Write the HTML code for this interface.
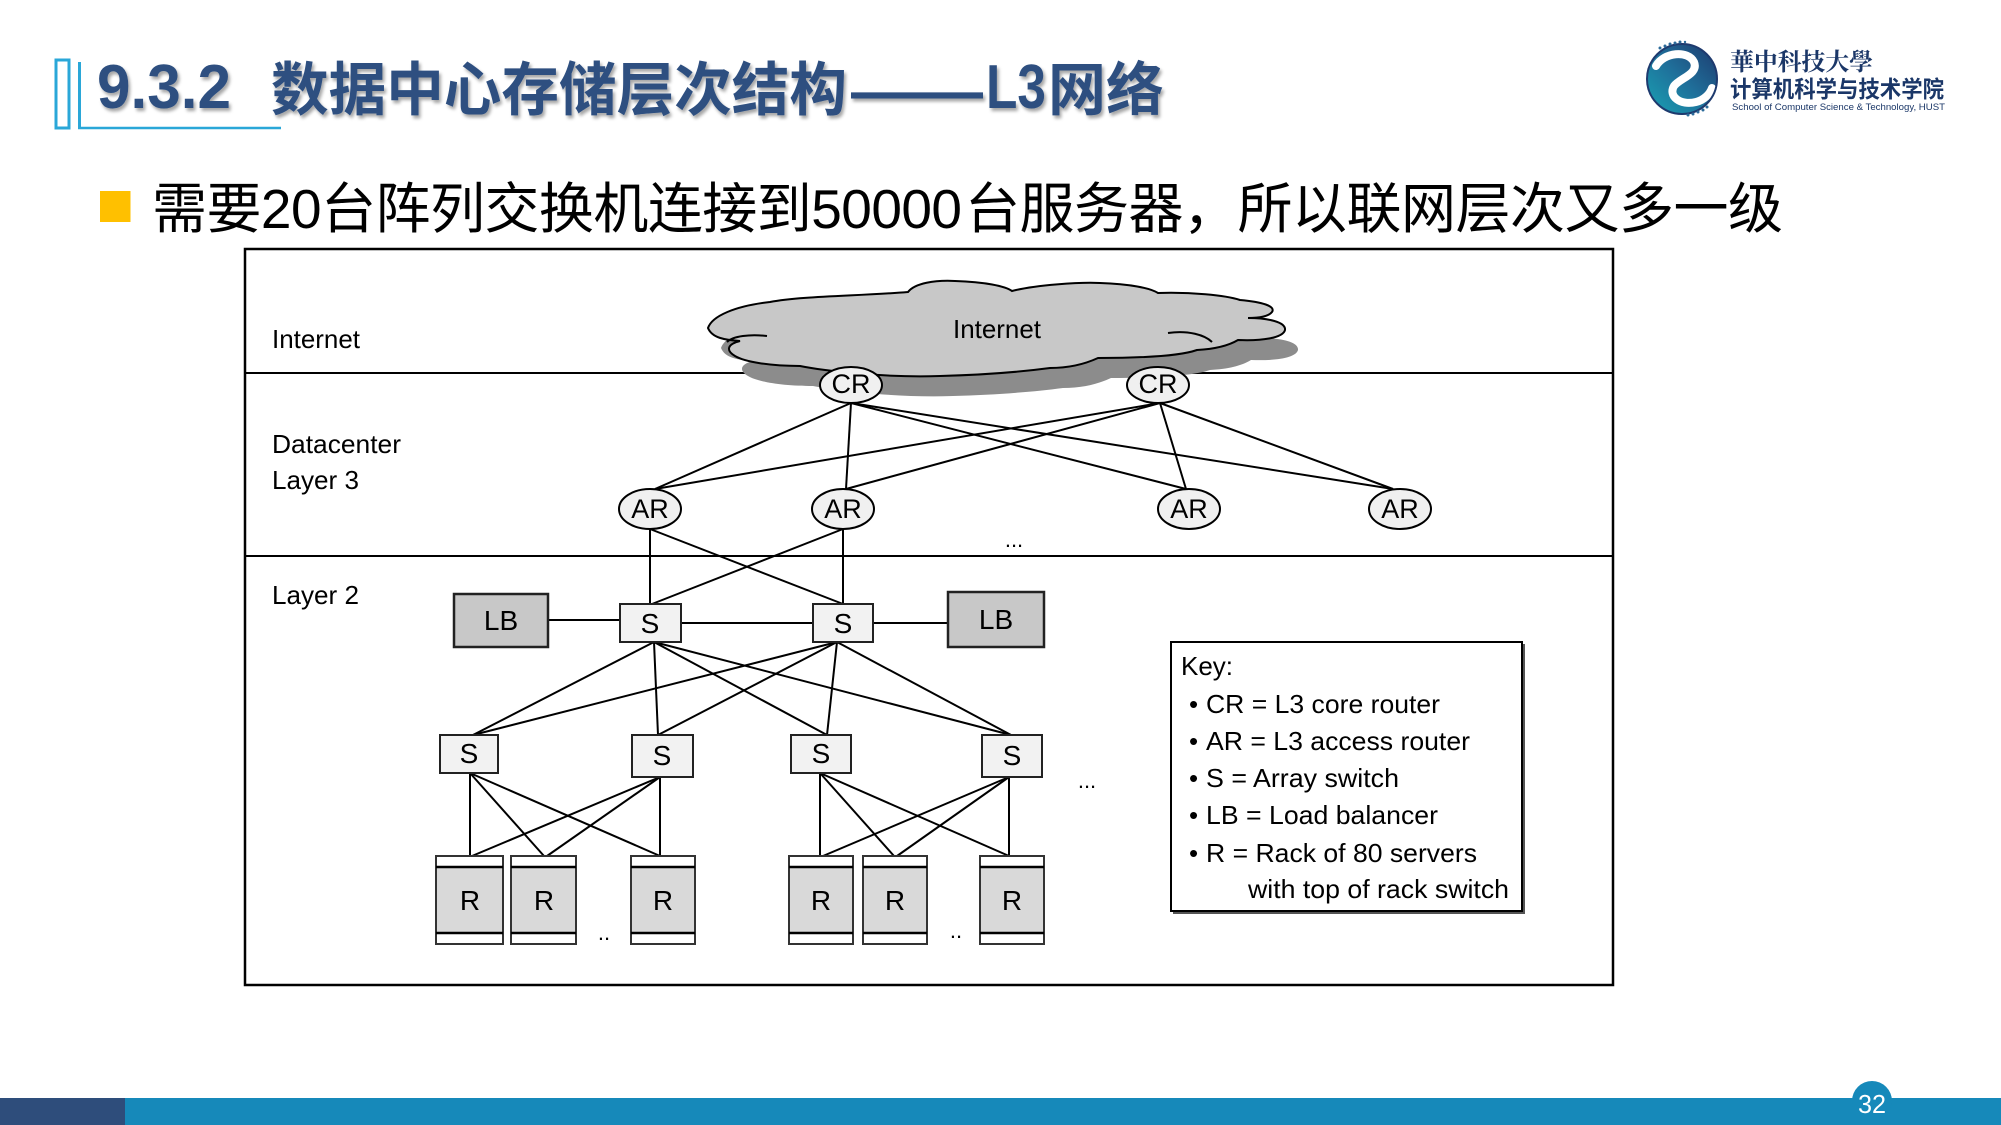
<!DOCTYPE html>
<html>
<head>
<meta charset="utf-8">
<style>
  html,body{margin:0;padding:0;background:#fff;}
  body{width:2001px;height:1125px;overflow:hidden;}
  svg{display:block;}
  .lat{font-family:"Liberation Sans",Arial,sans-serif;}
  .cjk{font-family:"Liberation Sans","Noto Sans CJK SC",sans-serif;}
</style>
</head>
<body>
<svg width="2001" height="1125" viewBox="0 0 2001 1125" xmlns="http://www.w3.org/2000/svg">
  <defs>
    <filter id="ts" x="-5%" y="-30%" width="110%" height="160%">
      <feDropShadow dx="2" dy="3" stdDeviation="1.5" flood-color="#000" flood-opacity="0.35"/>
    </filter>
    <linearGradient id="lg" x1="0" y1="1" x2="1" y2="0">
      <stop offset="0" stop-color="#19a3b4"/>
      <stop offset="0.5" stop-color="#1f6f9a"/>
      <stop offset="1" stop-color="#1e3a6e"/>
    </linearGradient>
  </defs>

  <!-- Header decoration -->
  <rect x="56" y="60" width="13" height="68" fill="none" stroke="#2AA7D8" stroke-width="3"/>
  <line x1="79.5" y1="62" x2="79.5" y2="129" stroke="#2AA7D8" stroke-width="3"/>
  <line x1="78" y1="128" x2="281" y2="128" stroke="#2AA7D8" stroke-width="2.5"/>

  <!-- Title -->
  <g fill="#2D4F80" filter="url(#ts)">
    <text x="97" y="108" class="lat" font-weight="bold" font-size="62" textLength="134" lengthAdjust="spacingAndGlyphs">9.3.2</text>
    <text x="271" y="110" class="cjk" font-weight="bold" font-size="58" textLength="576" lengthAdjust="spacingAndGlyphs">数据中心存储层次结构</text>
    <text x="851" y="112" class="lat" font-weight="bold" font-size="62" textLength="132" lengthAdjust="spacingAndGlyphs">——</text>
    <text x="986" y="108" class="lat" font-weight="bold" font-size="62" textLength="60" lengthAdjust="spacingAndGlyphs">L3</text>
    <text x="1048" y="110" class="cjk" font-weight="bold" font-size="58" textLength="116" lengthAdjust="spacingAndGlyphs">网络</text>
  </g>

  <!-- Logo -->
  <circle cx="1682" cy="79" r="35" fill="url(#lg)"/>
  <path d="M1656,66 C1664,52 1688,50 1694,62 C1699,74 1680,78 1674,86 C1668,96 1680,106 1696,102 C1704,100 1710,94 1712,88" fill="none" stroke="#fff" stroke-width="8" stroke-linecap="round"/>
  <circle cx="1682" cy="79" r="35" fill="none" stroke="#1e3a6e" stroke-width="2"/>
  <g fill="#2a6a9a">
    <circle cx="1660" cy="48" r="1.5"/><circle cx="1665" cy="46" r="1.5"/><circle cx="1670" cy="44" r="1.5"/><circle cx="1675" cy="43" r="1.5"/><circle cx="1680" cy="42" r="1.5"/><circle cx="1685" cy="42" r="1.2"/>
    <circle cx="1688" cy="115" r="1.5"/><circle cx="1693" cy="114" r="1.5"/><circle cx="1698" cy="112" r="1.5"/><circle cx="1703" cy="110" r="1.5"/><circle cx="1707" cy="107" r="1.5"/>
  </g>
  <text x="1730" y="70" font-family="'Noto Serif CJK SC','Noto Sans CJK SC',serif" font-weight="bold" font-size="24" fill="#1B3768" textLength="143" lengthAdjust="spacingAndGlyphs">華中科技大學</text>
  <text x="1730" y="97" class="cjk" font-weight="bold" font-size="23" fill="#1B3768" textLength="214" lengthAdjust="spacingAndGlyphs">计算机科学与技术学院</text>
  <text x="1732" y="110" class="lat" font-size="9.5" fill="#1B3768" textLength="213" lengthAdjust="spacingAndGlyphs">School of Computer Science &amp; Technology, HUST</text>

  <!-- Bullet line -->
  <rect x="100" y="191" width="30.5" height="31" fill="#FFC000"/>
  <text x="152" y="228" class="cjk" font-size="55" fill="#000" textLength="810" lengthAdjust="spacing">需要20台阵列交换机连接到50000</text>
  <text x="965" y="228" class="cjk" font-size="55" fill="#000" textLength="818" lengthAdjust="spacing">台服务器，所以联网层次又多一级</text>

  <!-- Diagram frame -->
  <rect x="245" y="249" width="1368" height="736" fill="#fff" stroke="#000" stroke-width="2.5"/>
  <line x1="245" y1="373" x2="1613" y2="373" stroke="#000" stroke-width="2"/>
  <line x1="245" y1="556" x2="1613" y2="556" stroke="#000" stroke-width="2"/>

  <!-- Layer labels -->
  <g class="lat" font-size="26" fill="#000">
    <text x="272" y="348" textLength="88" lengthAdjust="spacingAndGlyphs">Internet</text>
    <text x="272" y="453" textLength="129" lengthAdjust="spacingAndGlyphs">Datacenter</text>
    <text x="272" y="489" textLength="87" lengthAdjust="spacingAndGlyphs">Layer 3</text>
    <text x="272" y="604" textLength="87" lengthAdjust="spacingAndGlyphs">Layer 2</text>
  </g>

  <!-- Cloud shadow -->
  <path transform="translate(13,20)" fill="#8C8C8C" d="M708,328 C712,316 735,306 770,302 C800,296 860,296 908,292 C915,283 935,280 955,281 C985,282 1005,286 1012,291 C1035,285 1080,282 1100,283 C1130,284 1150,288 1158,293 C1190,292 1225,295 1240,300 C1262,302 1276,306 1272,312 C1268,317 1258,318 1248,318 C1268,318 1286,322 1285,330 C1283,338 1262,341 1238,340 C1228,346 1215,349 1197,350 C1180,356 1140,358 1098,358 C1085,364 1070,368 1050,368 C1020,372 980,375 940,376 C880,378 820,370 800,366 C770,366 745,362 735,356 C725,350 728,344 740,341 C725,340 712,338 708,328 Z"/>
  <!-- Cloud -->
  <path fill="#C8C8C8" stroke="#000" stroke-width="2" d="M708,328 C712,316 735,306 770,302 C800,296 860,296 908,292 C915,283 935,280 955,281 C985,282 1005,286 1012,291 C1035,285 1080,282 1100,283 C1130,284 1150,288 1158,293 C1190,292 1225,295 1240,300 C1262,302 1276,306 1272,312 C1268,317 1258,318 1248,318 C1268,318 1286,322 1285,330 C1283,338 1262,341 1238,340 C1228,346 1215,349 1197,350 C1180,356 1140,358 1098,358 C1085,364 1070,368 1050,368 C1020,372 980,375 940,376 C880,378 820,370 800,366 C770,366 745,362 735,356 C725,350 728,344 740,341 C725,340 712,338 708,328 Z"/>
  <path fill="none" stroke="#000" stroke-width="2" d="M1168,333 C1188,330 1205,335 1212,342"/>
  <path fill="none" stroke="#000" stroke-width="2" d="M767,336 C750,334 733,336 727,342"/>
  <text x="953" y="338" class="lat" font-size="26" textLength="88" lengthAdjust="spacingAndGlyphs">Internet</text>

  <!-- Connectors CR -> AR -->
  <g stroke="#000" stroke-width="2" fill="none">
    <line x1="851" y1="403" x2="655" y2="489"/>
    <line x1="851" y1="403" x2="846" y2="489"/>
    <line x1="851" y1="403" x2="1186" y2="489"/>
    <line x1="851" y1="403" x2="1393" y2="489"/>
    <line x1="1160" y1="403" x2="655" y2="489"/>
    <line x1="1160" y1="403" x2="846" y2="489"/>
    <line x1="1160" y1="403" x2="1186" y2="489"/>
    <line x1="1160" y1="403" x2="1393" y2="489"/>
    <!-- AR -> S -->
    <line x1="650" y1="529" x2="650" y2="604"/>
    <line x1="650" y1="529" x2="843" y2="604"/>
    <line x1="843" y1="529" x2="843" y2="604"/>
    <line x1="843" y1="529" x2="652" y2="604"/>
    <!-- horizontal -->
    <line x1="548" y1="620" x2="620" y2="620"/>
    <line x1="681" y1="623" x2="813" y2="623"/>
    <line x1="873" y1="623" x2="948" y2="623"/>
    <!-- S top -> S lower -->
    <line x1="654" y1="642" x2="473" y2="735"/>
    <line x1="654" y1="642" x2="658" y2="735"/>
    <line x1="654" y1="642" x2="827" y2="735"/>
    <line x1="654" y1="642" x2="1011" y2="735"/>
    <line x1="837" y1="642" x2="473" y2="735"/>
    <line x1="837" y1="642" x2="658" y2="735"/>
    <line x1="837" y1="642" x2="827" y2="735"/>
    <line x1="837" y1="642" x2="1011" y2="735"/>
    <!-- S lower -> R -->
    <line x1="470" y1="773" x2="470" y2="856"/>
    <line x1="470" y1="773" x2="544" y2="856"/>
    <line x1="470" y1="773" x2="660" y2="856"/>
    <line x1="660" y1="777" x2="472" y2="856"/>
    <line x1="660" y1="777" x2="547" y2="856"/>
    <line x1="660" y1="777" x2="660" y2="856"/>
    <line x1="820" y1="773" x2="820" y2="856"/>
    <line x1="820" y1="773" x2="894" y2="856"/>
    <line x1="820" y1="773" x2="1009" y2="856"/>
    <line x1="1009" y1="777" x2="823" y2="856"/>
    <line x1="1009" y1="777" x2="897" y2="856"/>
    <line x1="1009" y1="777" x2="1009" y2="856"/>
  </g>

  <!-- CR / AR ellipses -->
  <g fill="#F0F0F0" stroke="#000" stroke-width="2">
    <ellipse cx="851" cy="385" rx="31" ry="18"/>
    <ellipse cx="1158" cy="385" rx="31" ry="18"/>
    <ellipse cx="650" cy="509" rx="31" ry="20"/>
    <ellipse cx="843" cy="509" rx="31" ry="20"/>
    <ellipse cx="1189" cy="509" rx="31" ry="20"/>
    <ellipse cx="1400" cy="509" rx="31" ry="20"/>
  </g>
  <g class="lat" font-size="27" text-anchor="middle" fill="#000">
    <text x="851" y="393">CR</text>
    <text x="1158" y="393">CR</text>
    <text x="650" y="518">AR</text>
    <text x="843" y="518">AR</text>
    <text x="1189" y="518">AR</text>
    <text x="1400" y="518">AR</text>
  </g>
  <text x="1014" y="547" class="lat" font-size="22" text-anchor="middle">...</text>

  <!-- LB boxes -->
  <g fill="#C8C8C8" stroke="#222" stroke-width="2.5">
    <rect x="454" y="594" width="94" height="53"/>
    <rect x="948" y="592" width="96" height="55"/>
  </g>
  <!-- S boxes -->
  <g fill="#F2F2F2" stroke="#222" stroke-width="2">
    <rect x="620" y="604" width="61" height="38"/>
    <rect x="813" y="604" width="60" height="38"/>
    <rect x="440" y="735" width="58" height="38"/>
    <rect x="632" y="735" width="61" height="42"/>
    <rect x="791" y="735" width="60" height="38"/>
    <rect x="982" y="735" width="60" height="42"/>
  </g>
  <g class="lat" font-size="28" text-anchor="middle" fill="#000">
    <text x="501" y="630">LB</text>
    <text x="996" y="629">LB</text>
    <text x="650" y="633">S</text>
    <text x="843" y="633">S</text>
    <text x="469" y="763">S</text>
    <text x="662" y="765">S</text>
    <text x="821" y="763">S</text>
    <text x="1012" y="765">S</text>
  </g>

  <!-- Racks -->
  <g>
    <g transform="translate(436,856)">
      <rect x="0" y="0" width="67" height="88" fill="#D9D9D9" stroke="#333" stroke-width="2"/>
      <rect x="1" y="1" width="65" height="10" fill="#fff"/><rect x="1" y="77" width="65" height="10" fill="#fff"/>
      <line x1="0" y1="11" x2="67" y2="11" stroke="#000" stroke-width="2.5"/><line x1="0" y1="77" x2="67" y2="77" stroke="#000" stroke-width="2.5"/>
    </g>
    <g transform="translate(511,856)">
      <rect x="0" y="0" width="65" height="88" fill="#D9D9D9" stroke="#333" stroke-width="2"/>
      <rect x="1" y="1" width="63" height="10" fill="#fff"/><rect x="1" y="77" width="63" height="10" fill="#fff"/>
      <line x1="0" y1="11" x2="65" y2="11" stroke="#000" stroke-width="2.5"/><line x1="0" y1="77" x2="65" y2="77" stroke="#000" stroke-width="2.5"/>
    </g>
    <g transform="translate(631,856)">
      <rect x="0" y="0" width="64" height="88" fill="#D9D9D9" stroke="#333" stroke-width="2"/>
      <rect x="1" y="1" width="62" height="10" fill="#fff"/><rect x="1" y="77" width="62" height="10" fill="#fff"/>
      <line x1="0" y1="11" x2="64" y2="11" stroke="#000" stroke-width="2.5"/><line x1="0" y1="77" x2="64" y2="77" stroke="#000" stroke-width="2.5"/>
    </g>
    <g transform="translate(789,856)">
      <rect x="0" y="0" width="64" height="88" fill="#D9D9D9" stroke="#333" stroke-width="2"/>
      <rect x="1" y="1" width="62" height="10" fill="#fff"/><rect x="1" y="77" width="62" height="10" fill="#fff"/>
      <line x1="0" y1="11" x2="64" y2="11" stroke="#000" stroke-width="2.5"/><line x1="0" y1="77" x2="64" y2="77" stroke="#000" stroke-width="2.5"/>
    </g>
    <g transform="translate(863,856)">
      <rect x="0" y="0" width="64" height="88" fill="#D9D9D9" stroke="#333" stroke-width="2"/>
      <rect x="1" y="1" width="62" height="10" fill="#fff"/><rect x="1" y="77" width="62" height="10" fill="#fff"/>
      <line x1="0" y1="11" x2="64" y2="11" stroke="#000" stroke-width="2.5"/><line x1="0" y1="77" x2="64" y2="77" stroke="#000" stroke-width="2.5"/>
    </g>
    <g transform="translate(980,856)">
      <rect x="0" y="0" width="64" height="88" fill="#D9D9D9" stroke="#333" stroke-width="2"/>
      <rect x="1" y="1" width="62" height="10" fill="#fff"/><rect x="1" y="77" width="62" height="10" fill="#fff"/>
      <line x1="0" y1="11" x2="64" y2="11" stroke="#000" stroke-width="2.5"/><line x1="0" y1="77" x2="64" y2="77" stroke="#000" stroke-width="2.5"/>
    </g>
  </g>
  <g class="lat" font-size="28" text-anchor="middle" fill="#000">
    <text x="470" y="910">R</text>
    <text x="544" y="910">R</text>
    <text x="663" y="910">R</text>
    <text x="821" y="910">R</text>
    <text x="895" y="910">R</text>
    <text x="1012" y="910">R</text>
  </g>
  <g class="lat" font-size="22" text-anchor="middle" fill="#000">
    <text x="604" y="940">..</text>
    <text x="956" y="938">..</text>
    <text x="1087" y="788">...</text>
  </g>

  <!-- Key box -->
  <rect x="1173" y="644" width="352" height="270" fill="#555"/>
  <rect x="1171" y="642" width="351" height="269" fill="#fff" stroke="#000" stroke-width="2"/>
  <g class="lat" font-size="26" fill="#000">
    <text x="1181" y="675">Key:</text>
    <text x="1189" y="713">•</text><text x="1206" y="713" textLength="234" lengthAdjust="spacingAndGlyphs">CR = L3 core router</text>
    <text x="1189" y="750">•</text><text x="1206" y="750" textLength="264" lengthAdjust="spacingAndGlyphs">AR = L3 access router</text>
    <text x="1189" y="787">•</text><text x="1206" y="787" textLength="193" lengthAdjust="spacingAndGlyphs">S = Array switch</text>
    <text x="1189" y="824">•</text><text x="1206" y="824" textLength="232" lengthAdjust="spacingAndGlyphs">LB = Load balancer</text>
    <text x="1189" y="862">•</text><text x="1206" y="862" textLength="271" lengthAdjust="spacingAndGlyphs">R = Rack of 80 servers</text>
    <text x="1248" y="898" textLength="261" lengthAdjust="spacingAndGlyphs">with top of rack switch</text>
  </g>

  <!-- Footer -->
  <rect x="0" y="1098" width="125" height="27" fill="#2E4D7B"/>
  <rect x="125" y="1098" width="1876" height="27" fill="#1689BA"/>
  <circle cx="1872" cy="1101" r="20" fill="#1689BA"/>
  <text x="1872" y="1113" class="lat" font-size="26" fill="#fff" text-anchor="middle" textLength="28" lengthAdjust="spacingAndGlyphs">32</text>
</svg>
</body>
</html>
